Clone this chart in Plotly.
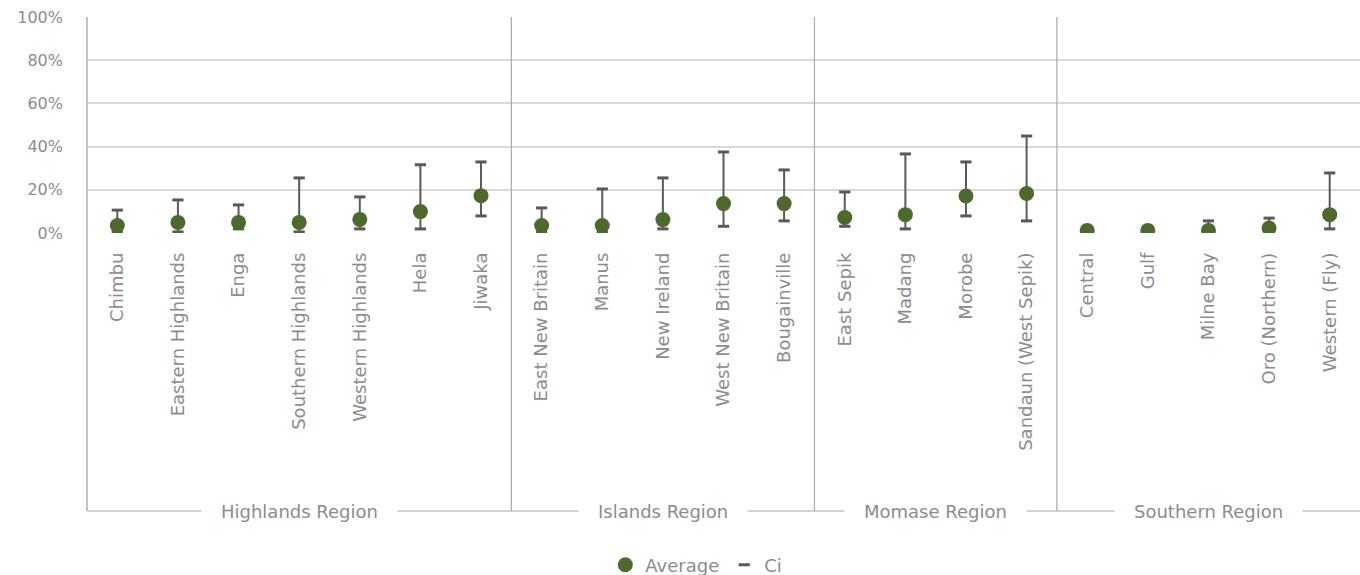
import plotly.graph_objects as go

# Provinces grouped by region
regions = ["Highlands Region", "Islands Region", "Momase Region", "Southern Region"]
provinces = [
    ["Chimbu", "Eastern Highlands", "Enga", "Southern Highlands", "Western Highlands", "Hela", "Jiwaka"],
    ["East New Britain", "Manus", "New Ireland", "West New Britain", "Bougainville"],
    ["East Sepik", "Madang", "Morobe", "Sandaun (West Sepik)"],
    ["Central", "Gulf", "Milne Bay", "Oro (Northern)", "Western (Fly)"],
]

# Values in percent, one per province in the order above
average = [3.5, 4.9, 4.9, 4.9, 6.3, 9.9, 17.3,
           3.5, 3.5, 6.2, 13.6, 13.6,
           7.2, 8.5, 17.1, 18.3,
           1.2, 1.2, 1.2, 2.3, 8.5]
ci_low = [0.5, 0.5, 1.9, 0.5, 1.9, 1.9, 7.9,
          0.5, 0.5, 1.9, 3.1, 5.6,
          3.1, 1.9, 7.9, 5.6,
          0.5, 0.5, 0.5, 0.5, 1.9]
ci_high = [10.6, 15.3, 13.0, 25.5, 16.7, 31.6, 32.9,
           11.6, 20.4, 25.5, 37.5, 29.2,
           19.0, 36.6, 32.9, 44.9,
           0.5, 0.5, 5.6, 6.9, 27.8]

y_ticks = [0, 20, 40, 60, 80, 100]
y_tick_labels = [f"{v}%" for v in y_ticks]

categories = [p for group in provinces for p in group]
n = len(categories)

GREEN = "#4b6a2c"
DARK = "#595959"
TEXT = "#8c8c8c"
FONT = "DejaVu Sans"
LABEL_SIZE = 18

W, H = 1360, 575
M_L, M_R, M_T, M_B = 87, 0, 17, 342
plot_h = H - M_T - M_B
label_line_px = 511  # baseline of the region labels
y_line = -(label_line_px - (H - M_B)) / plot_h

fig = go.Figure()

# vertical CI stems
stem_x, stem_y = [], []
for c, lo, hi in zip(categories, ci_low, ci_high):
    stem_x += [c, c, None]
    stem_y += [lo, hi, None]
fig.add_trace(go.Scatter(
    x=stem_x, y=stem_y, mode="lines",
    line=dict(color=DARK, width=2),
    showlegend=False, hoverinfo="skip",
))

# CI caps
fig.add_trace(go.Scatter(
    x=categories + categories, y=ci_low + ci_high, mode="markers",
    name="Ci",
    marker=dict(symbol="line-ew-open", size=8, color=DARK,
                line=dict(color=DARK, width=3)),
))

# averages
fig.add_trace(go.Scatter(
    x=categories, y=average, mode="markers", name="Average",
    marker=dict(symbol="circle", size=15, color=GREEN),
))

# region dividers, bottom rule and labels
shapes = [dict(type="line", xref="paper", yref="paper",
               x0=0, x1=1, y0=y_line, y1=y_line,
               line=dict(color="#a6a6a6", width=1), layer="below"),
          dict(type="line", xref="paper", yref="paper",
               x0=0, x1=0, y0=y_line, y1=1,
               line=dict(color="#c4c4c4", width=2))]
annotations = []
start = 0
for name, group in zip(regions, provinces):
    end = start + len(group)
    x0, x1 = start / n, end / n
    if end < n:
        shapes.append(dict(type="line", xref="paper", yref="paper",
                           x0=x1, x1=x1, y0=y_line, y1=1,
                           line=dict(color="#a8a8a8", width=1.2)))
    annotations.append(dict(
        text="\u2003" + name + "\u2003", xref="paper", yref="paper",
        x=(x0 + x1) / 2, y=y_line, xanchor="center", yanchor="middle",
        showarrow=False, bgcolor="white", borderpad=1,
        font=dict(family=FONT, size=LABEL_SIZE, color=TEXT),
    ))
    start = end

fig.update_layout(
    width=W, height=H,
    margin=dict(l=M_L, r=M_R, t=M_T, b=M_B),
    paper_bgcolor="white", plot_bgcolor="white",
    font=dict(family=FONT, size=16, color=TEXT),
    shapes=shapes, annotations=annotations,
    showlegend=True,
    legend=dict(orientation="h", xref="container", yref="container",
                x=0.512, y=(H - 565) / H, xanchor="center", yanchor="middle",
                font=dict(family=FONT, size=LABEL_SIZE, color=TEXT),
                traceorder="reversed"),
    xaxis=dict(
        type="category", categoryorder="array", categoryarray=categories,
        range=[-0.5, n - 0.5], tickangle=-90, showgrid=False,
        showline=False, zeroline=False, ticks="",
        tickfont=dict(family=FONT, size=LABEL_SIZE, color=TEXT),
        ticklabelstandoff=15,
    ),
    yaxis=dict(
        range=[0, 100], tickmode="array", tickvals=y_ticks,
        ticktext=y_tick_labels,
        showgrid=True, gridcolor="#d9d9d9", gridwidth=1.5,
        zeroline=False, showline=False, ticks="",
        tickfont=dict(family=FONT, size=16, color=TEXT),
        ticklabelstandoff=23,
    ),
)

fig.write_html("out.html")
